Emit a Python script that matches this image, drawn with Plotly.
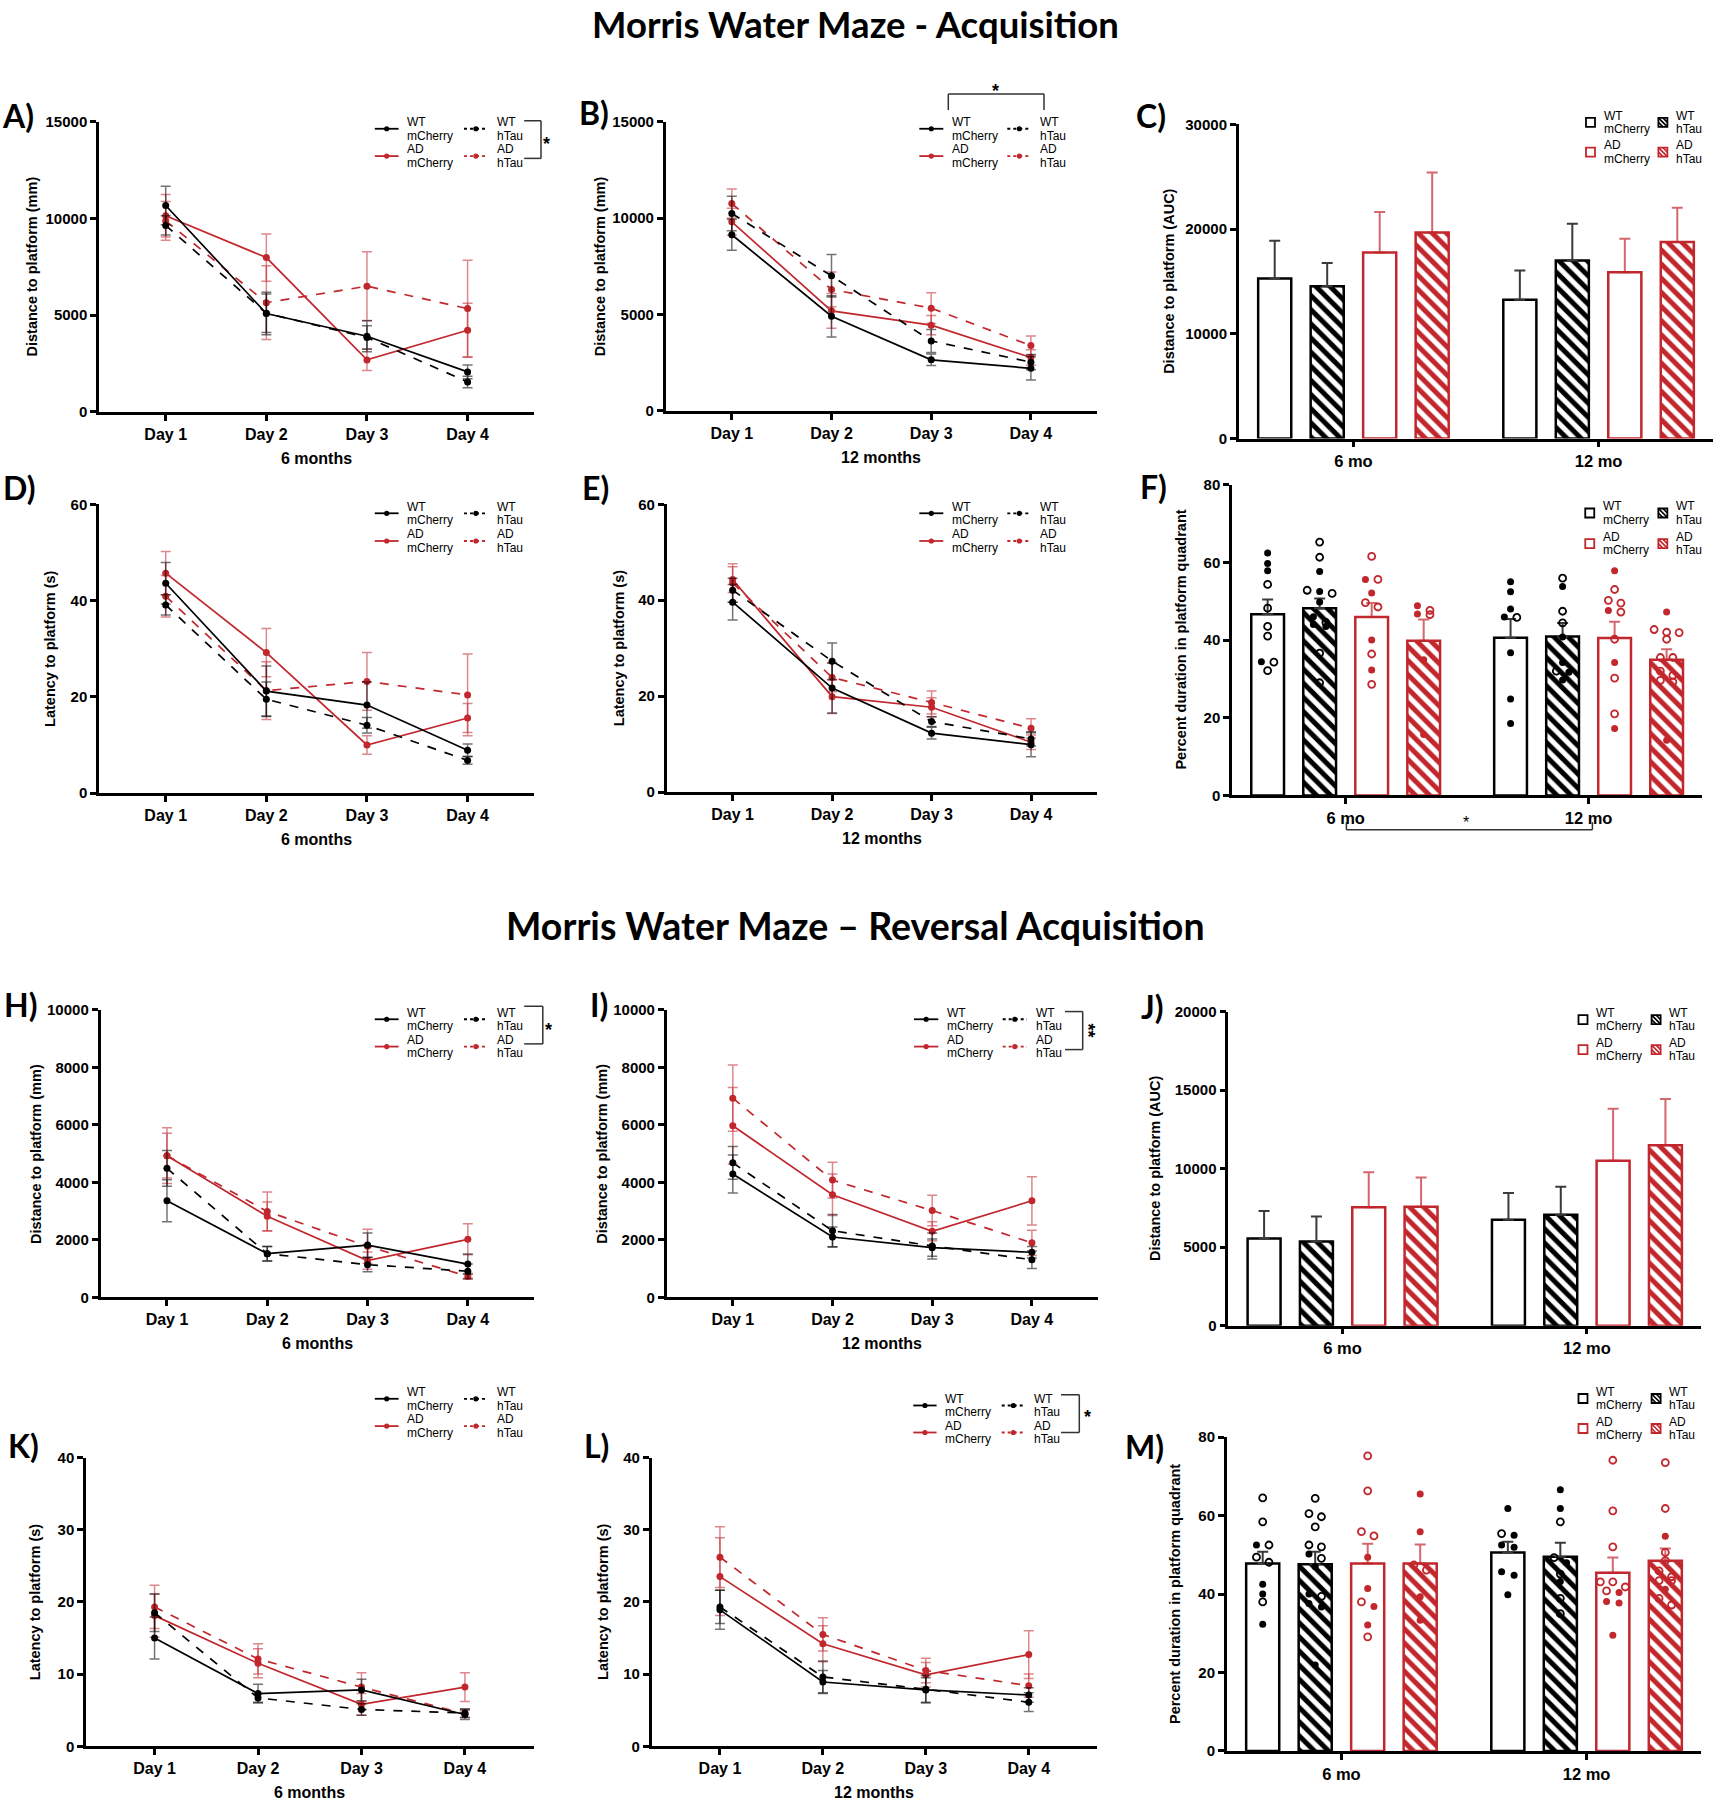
import plotly.graph_objects as go

W, H = 1715, 1800
FONT = "Liberation Sans"
LABEL_FONT = "Lato"
RED = "#C1272D"
BLACK = "#000000"

DAYS = ["Day 1", "Day 2", "Day 3", "Day 4"]
AGES = ["6 mo", "12 mo"]
GROUP_TOP = ["WT", "WT", "AD", "AD"]
GROUP_BOTTOM = ["mCherry", "hTau", "mCherry", "hTau"]
# group order in every list below: WT mCherry, WT hTau, AD mCherry, AD hTau

# ---- Acquisition ----
A_MEAN = [[10670, 5090, 3910, 2070], [9640, 5100, 3850, 1550], [10140, 7980, 2690, 4220], [9880, 5650, 6500, 5340]]
A_SEM = [[1000, 1100, 800, 350], [500, 1000, 600, 300], [1100, 1220, 550, 1400], [1000, 1900, 1780, 2500]]

B_MEAN = [[9140, 4910, 2650, 2210], [10240, 7010, 3630, 2530], [9810, 5190, 4450, 2770], [10760, 6300, 5330, 3390]]
B_SEM = [[800, 1070, 300, 600], [900, 1100, 600, 400], [700, 900, 500, 400], [750, 900, 800, 500]]

C_MEAN = [[15290, 13250], [14550, 17010], [17770, 15890], [19680, 18760]]
C_SEM = [[3600, 2800], [2200, 3500], [3850, 3180], [5730, 3280]]

D_MEAN = [[43.6, 21.2, 18.3, 8.9], [39.1, 19.5, 14.1, 6.8], [45.7, 29.2, 10.0, 15.6], [40.9, 21.3, 23.2, 20.4]]
D_SEM = [[4.3, 5.2, 4.8, 1.3], [2.1, 3.6, 1.6, 0.8], [4.5, 5.0, 1.9, 3.0], [4.3, 6.0, 6.0, 8.5]]

E_MEAN = [[39.6, 21.7, 12.3, 9.9], [42.1, 27.3, 14.7, 11.1], [44.3, 19.9, 17.7, 10.4], [43.6, 23.9, 18.7, 13.3]]
E_SEM = [[3.7, 5.2, 1.2, 2.5], [2.5, 3.8, 1.0, 1.5], [2.7, 3.5, 2.0, 1.5], [4.0, 3.0, 2.4, 2.0]]

F_MEAN = [[46.6, 40.6], [48.2, 40.9], [45.9, 40.5], [39.8, 34.9]]
F_SEM = [[3.8, 4.8], [2.5, 3.5], [3.6, 4.2], [5.5, 2.7]]
# individual animals: [6 mo, 12 mo] for each group; filled = one sex, open = other
F_FILLED = [
    [[62.4, 59.7, 57.8, 34.4], [55.0, 52.4, 48.0, 45.9, 36.7, 24.8, 18.5]],
    [[57.6, 52.5, 49.8, 46.0, 43.5, 44.0], [53.8, 40.8, 34.2, 31.7, 29.7]],
    [[55.6, 52.1, 40.0, 32.3], [57.8, 47.6, 34.2, 17.2]],
    [[46.7, 48.8, 34.9, 15.7], [47.2, 14.2]],
]
F_OPEN = [
    [[54.3, 48.2, 43.5, 41.0, 34.3, 32.1], [45.8]],
    [[65.2, 61.3, 52.0, 52.8, 44.5, 36.6, 29.0], [55.9, 47.4, 44.4, 32.0]],
    [[61.5, 55.6, 48.5, 49.6, 36.4, 28.6], [53.0, 49.5, 50.2, 47.2, 40.2, 30.2, 21.0]],
    [[47.6, 46.5], [41.9, 42.0, 42.7, 40.2, 35.5, 35.5, 32.0, 30.9, 29.6, 29.2]],
]

# ---- Reversal acquisition ----
H_MEAN = [[3360, 1520, 1820, 1160], [4490, 1520, 1140, 910], [4930, 2820, 1280, 2020], [4930, 2990, 1780, 730]]
H_SEM = [[730, 250, 420, 350], [620, 250, 250, 250], [780, 500, 300, 540], [970, 680, 590, 100]]

I_MEAN = [[4290, 2100, 1730, 1570], [4680, 2320, 1790, 1310], [5970, 3570, 2300, 3360], [6930, 4080, 3020, 1900]]
I_SEM = [[660, 350, 300, 200], [570, 560, 450, 300], [1330, 720, 330, 840], [1150, 620, 530, 440]]

J_MEAN = [[5560, 6750], [5370, 7070], [7540, 10510], [7580, 11490]]
J_SEM = [[1740, 1700], [1590, 1780], [2230, 3310], [1850, 2950]]

K_MEAN = [[15.0, 7.3, 7.8, 4.4], [18.5, 6.7, 5.1, 4.6], [18.1, 11.5, 5.8, 8.2], [19.3, 12.1, 8.2, 4.5]]
K_SEM = [[2.9, 1.3, 1.5, 0.7], [2.6, 0.6, 0.8, 0.6], [3.0, 2.0, 1.5, 2.0], [3.0, 2.1, 2.0, 0.5]]

L_MEAN = [[18.9, 8.9, 7.8, 7.1], [19.3, 9.6, 7.9, 6.1], [23.5, 14.2, 9.9, 12.7], [26.2, 15.5, 10.5, 8.4]]
L_SEM = [[2.7, 1.6, 1.7, 1.0], [2.3, 2.2, 1.9, 1.3], [5.4, 2.5, 1.7, 3.3], [4.2, 2.3, 1.7, 1.6]]

M_MEAN = [[47.8, 50.6], [47.6, 49.5], [47.8, 45.4], [47.8, 48.5]]
M_SEM = [[3.0, 2.7], [3.2, 3.6], [5.0, 3.9], [4.8, 3.1]]
M_FILLED = [
    [[52.5, 42.5, 40.0, 32.3], [61.8, 52.5, 55.0, 51.9, 45.7, 44.8, 39.8]],
    [[50.2, 47.0, 40.0, 37.6, 36.7, 21.9], [66.6, 61.8, 48.0, 43.2]],
    [[49.4, 41.4, 36.8, 32.1], [40.4, 38.1, 37.7, 29.5]],
    [[65.5, 55.9, 39.3, 33.3], [54.7, 41.2]],
]
M_OPEN = [
    [[64.5, 58.4, 52.5, 48.1, 49.4, 38.0], [55.4]],
    [[64.4, 59.7, 60.5, 57.1, 52.0, 52.5, 49.1, 39.4], [58.4, 49.3, 45.1, 38.9, 35.0]],
    [[75.2, 66.3, 54.8, 55.9, 38.0, 29.1], [74.1, 61.2, 52.0, 43.1, 43.1, 40.8, 41.8]],
    [[46.1, 47.4], [73.5, 61.8, 50.6, 48.5, 44.4, 45.9, 43.4, 43.4, 38.9, 37.2]],
]

# ---------------------------------------------------------------------------
COLORS = [BLACK, BLACK, RED, RED]
DASHES = ["solid", "dash", "solid", "dash"]
HATCH = [False, True, False, True]
LINE_ERR = ["rgba(0,0,0,0.55)", "rgba(0,0,0,0.55)", "rgba(193,39,45,0.55)", "rgba(193,39,45,0.55)"]
BAR_ERR = ["#3a3a3a", "#3a3a3a", "rgba(193,39,45,0.7)", "rgba(193,39,45,0.7)"]
DAY_OFF = 0.663
GROUP_GAP = 4.67
BAR_RANGE = [-0.685, 8.35]
# vertical calibration of the page (pixel target -> paper)
Y_OFF = 9.0
Y_SCALE = 0.990

fig = go.Figure()
layout_axes = {}
shapes = []
annotations = []


def px(x):
    return x / W


def py(y):
    return 1 - ((y - Y_OFF) / Y_SCALE) / H


def axis_names(n):
    if n == 1:
        return "xaxis", "yaxis", "x", "y"
    return f"xaxis{n}", f"yaxis{n}", f"x{n}", f"y{n}"


def base_axis():
    return dict(showline=True, linewidth=2.5, linecolor=BLACK, ticks="outside", ticklen=6,
                tickwidth=2.5, tickcolor=BLACK, showgrid=False, zeroline=False,
                tickfont=dict(family=FONT, size=15, color=BLACK, weight="bold"))


def text(x, y, s, size, bold=False, family=FONT, xanchor="center", angle=0, align="center"):
    if bold:
        s = f"<b>{s}</b>"
    annotations.append(dict(x=px(x), y=py(y), xref="paper", yref="paper", text=s, showarrow=False,
                            xanchor=xanchor, yanchor="middle", textangle=angle, align=align,
                            font=dict(family=family, size=size, color=BLACK)))


def setup_axes(n, box, xrange, xtickvals, xticktext, xfont, ymax, ytickvals):
    xa, ya, xr, yr = axis_names(n)
    x0, x1, ytop, ybot = box
    xax = base_axis()
    xax.update(domain=[px(x0), px(x1)], range=xrange, tickvals=xtickvals, ticktext=xticktext, anchor=yr)
    xax["tickfont"] = dict(family=FONT, size=xfont, color=BLACK, weight="bold")
    yax = base_axis()
    yax.update(domain=[py(ybot), py(ytop)], range=[0, ymax], tickvals=ytickvals,
               ticktext=[str(v) for v in ytickvals], anchor=xr)
    layout_axes[xa] = xax
    layout_axes[ya] = yax
    return xr, yr


def line_panel(n, box, ymax, ytickvals, means, sems, xlabel, ytitle, ytitle_x):
    xr, yr = setup_axes(n, box, [1 - DAY_OFF, 4 + DAY_OFF], [1, 2, 3, 4], DAYS, 16, ymax, ytickvals)
    for g in [3, 2, 1, 0]:
        fig.add_trace(go.Scatter(
            x=[1, 2, 3, 4], y=means[g], xaxis=xr, yaxis=yr, mode="lines+markers",
            line=dict(color=COLORS[g], width=1.7, dash=DASHES[g]),
            marker=dict(color=COLORS[g], size=7),
            error_y=dict(type="data", array=sems[g], color=LINE_ERR[g], thickness=1.5, width=5),
            cliponaxis=False, showlegend=False))
    x0, x1, ytop, ybot = box
    text((x0 + x1) / 2, ybot + 46.5, xlabel, 16, bold=True)
    text(ytitle_x, (ytop + ybot) / 2, ytitle, 14.5, bold=True, angle=-90)


def swarm(vals, xppu, yppu, diam=7.0, spacing=12.5):
    order = sorted(range(len(vals)), key=lambda i: -vals[i])
    rows = []
    for i in order:
        if rows and (vals[rows[-1][0]] - vals[i]) * yppu < diam:
            rows[-1].append(i)
        else:
            rows.append([i])
    offs = [0.0] * len(vals)
    for r in rows:
        k = len(r)
        for j, i in enumerate(r):
            offs[i] = (j - (k - 1) / 2) * spacing / xppu
    return offs


def bar_panel(n, box, ymax, ytickvals, means, sems, ytitle, ytitle_x, filled=None, opened=None):
    tick_pos = [1.5, 1.5 + GROUP_GAP]
    xr, yr = setup_axes(n, box, BAR_RANGE, tick_pos, AGES, 16.5, ymax, ytickvals)
    x0, x1, ytop, ybot = box
    xppu = (x1 - x0) / (BAR_RANGE[1] - BAR_RANGE[0])
    yppu = (ybot - ytop) / ymax
    for g in range(4):
        xs = [g, g + GROUP_GAP]
        c = COLORS[g]
        marker = dict(color="white", line=dict(color=c, width=2.5))
        if HATCH[g]:
            marker["pattern"] = dict(shape="\\", fgcolor=c, bgcolor="white", size=10, solidity=0.5,
                                     fgopacity=1)
        fig.add_trace(go.Bar(
            x=xs, y=means[g], width=0.63, xaxis=xr, yaxis=yr, marker=marker,
            error_y=dict(type="data", symmetric=False, array=sems[g], arrayminus=[0, 0],
                         color=BAR_ERR[g], thickness=2, width=5.5),
            showlegend=False))
    if filled is not None:
        for g in range(4):
            for a in range(2):
                fv, ov = filled[g][a], opened[g][a]
                vals = fv + ov
                offs = swarm(vals, xppu, yppu)
                cx = g + a * GROUP_GAP
                nf = len(fv)
                fig.add_trace(go.Scatter(
                    x=[cx + o for o in offs[:nf]], y=fv, xaxis=xr, yaxis=yr, mode="markers",
                    marker=dict(color=COLORS[g], size=7, symbol="circle"), showlegend=False,
                    cliponaxis=False))
                fig.add_trace(go.Scatter(
                    x=[cx + o for o in offs[nf:]], y=ov, xaxis=xr, yaxis=yr, mode="markers",
                    marker=dict(color=COLORS[g], size=7, symbol="circle-open", line=dict(width=1.8, color=COLORS[g])),
                    showlegend=False, cliponaxis=False))
    text(ytitle_x, (ytop + ybot) / 2, ytitle, 14.5, bold=True, angle=-90)


def seg(xa, ya, xb, yb, color=BLACK, width=1.5, dash="solid"):
    shapes.append(dict(type="line", xref="paper", yref="paper", x0=px(xa), y0=py(ya), x1=px(xb), y1=py(yb),
                       line=dict(color=color, width=width, dash=dash)))


def two_line_label(x, y, k):
    text(x, y - 6.6, GROUP_TOP[k], 12, xanchor="left")
    text(x, y + 6.8, GROUP_BOTTOM[k], 12, xanchor="left")


def line_legend(x0, y0, L, toff, coff, rgap):
    for k in range(4):
        col, row = k % 2, k // 2
        lx = x0 + col * coff
        ly = y0 + row * rgap
        seg(lx, ly, lx + L, ly, COLORS[k], 1.8, "solid" if DASHES[k] == "solid" else "dot")
        cx = lx + L / 2
        shapes.append(dict(type="circle", xref="paper", yref="paper", x0=px(cx - 2.6), x1=px(cx + 2.6),
                           y0=py(ly + 2.6), y1=py(ly - 2.6), fillcolor=COLORS[k], line=dict(width=0)))
        two_line_label(lx + toff, ly, k)


def bar_legend(cx, cy, coff, rgap):
    h = 4.5
    for k in range(4):
        col, row = k % 2, k // 2
        x = cx + col * coff
        y = cy + row * rgap
        shapes.append(dict(type="rect", xref="paper", yref="paper", x0=px(x - h), x1=px(x + h),
                           y0=py(y + h), y1=py(y - h), fillcolor="white", line=dict(color=COLORS[k], width=1.8)))
        if HATCH[k]:
            seg(x - h, y - h, x + h, y + h, COLORS[k], 1.7)
            seg(x - h, y, x, y + h, COLORS[k], 1.7)
            seg(x, y - h, x + h, y, COLORS[k], 1.7)
        two_line_label(x + 11.3, y, k)


def bracket(points):
    for (xa, ya), (xb, yb) in zip(points[:-1], points[1:]):
        seg(xa, ya, xb, yb, "#333333", 1.5)


DIST = "Distance to platform (mm)"
LAT = "Latency to platform (s)"
AUC = "Distance to platform (AUC)"
PCT = "Percent duration in platform quadrant"

line_panel(1, (99, 534.3, 121.7, 411.7), 15000, [0, 5000, 10000, 15000], A_MEAN, A_SEM, "6 months", DIST, 31.6)
line_panel(2, (665.7, 1097, 121.7, 410.7), 15000, [0, 5000, 10000, 15000], B_MEAN, B_SEM, "12 months", DIST, 600)
bar_panel(3, (1238.75, 1713, 124.3, 438.3), 30000, [0, 10000, 20000, 30000], C_MEAN, C_SEM, AUC, 1169.4)
line_panel(4, (99, 534.3, 504, 792.7), 60, [0, 20, 40, 60], D_MEAN, D_SEM, "6 months", LAT, 50.2)
line_panel(5, (666.7, 1097, 504, 791.7), 60, [0, 20, 40, 60], E_MEAN, E_SEM, "12 months", LAT, 619)
bar_panel(6, (1232, 1702, 484.3, 795), 80, [0, 20, 40, 60, 80], F_MEAN, F_SEM, PCT, 1180.6, F_FILLED, F_OPEN)
line_panel(7, (100.5, 534.3, 1009.3, 1296.7), 10000, [0, 2000, 4000, 6000, 8000, 10000], H_MEAN, H_SEM, "6 months", DIST, 35.3)
line_panel(8, (666.7, 1098, 1009.3, 1296.7), 10000, [0, 2000, 4000, 6000, 8000, 10000], I_MEAN, I_SEM, "12 months", DIST, 602)
bar_panel(9, (1228.25, 1701, 1011, 1325), 20000, [0, 5000, 10000, 15000, 20000], J_MEAN, J_SEM, AUC, 1154.4)
line_panel(10, (86, 533.5, 1456.7, 1745.3), 40, [0, 10, 20, 30, 40], K_MEAN, K_SEM, "6 months", LAT, 35.3)
line_panel(11, (651.7, 1097, 1456.7, 1745.3), 40, [0, 10, 20, 30, 40], L_MEAN, L_SEM, "12 months", LAT, 603)
bar_panel(12, (1226.75, 1701, 1436.3, 1750), 80, [0, 20, 40, 60, 80], M_MEAN, M_SEM, PCT, 1175, M_FILLED, M_OPEN)

# legends
line_legend(374.8, 128.7, 23.8, 30.5, 89.2, 27.3)
line_legend(919.3, 128.7, 24, 30.7, 88, 27.3)
line_legend(374.8, 513, 23.8, 30.5, 89.2, 27.7)
line_legend(919.3, 513, 24, 30.7, 88, 27.7)
line_legend(374.8, 1018.7, 23.8, 30.5, 89.2, 27.3)
line_legend(914, 1018.7, 24.3, 31, 88.7, 27.3)
line_legend(374.8, 1398, 23.8, 30.5, 89.2, 27.3)
line_legend(913.3, 1404.7, 23.3, 30, 88.4, 27)
bar_legend(1590.5, 122.3, 72.4, 29.7)
bar_legend(1589.75, 512.7, 73.1, 30.6)
bar_legend(1583, 1019, 73.1, 30)
bar_legend(1583, 1397.7, 73.1, 30)

# significance brackets
bracket([(524.2, 120.7), (541, 120.7), (541, 158.3), (524.2, 158.3)])
text(546, 144, "*", 18, bold=True)
bracket([(948.3, 110), (948.3, 94), (1044, 94), (1044, 110)])
text(995.7, 91, "*", 18, bold=True)
bracket([(1346.4, 821.7), (1346.4, 829.3), (1592.4, 829.3), (1592.4, 821.7)])
text(1466, 822, "*", 16)
bracket([(524.2, 1005.7), (542.8, 1005.7), (542.8, 1043.3), (524.2, 1043.3)])
text(548, 1029, "*", 18, bold=True)
bracket([(1065, 1011), (1082.7, 1011), (1082.7, 1049), (1065, 1049)])
text(1088, 1030, "**", 18, bold=True, angle=90)
bracket([(1061, 1394), (1079.3, 1394), (1079.3, 1431.7), (1061, 1431.7)])
text(1087, 1416, "*", 18, bold=True)

# panel labels
for lab, x, y in [("A)", 0, 115), ("B)", 577, 112), ("C)", 1133.7, 115), ("D)", 1, 487), ("E)", 580, 487),
                  ("F)", 1137.5, 486), ("H)", 2, 1004), ("I)", 588, 1004), ("J)", 1139.4, 1006),
                  ("K)", 5.6, 1445), ("L)", 582, 1445), ("M)", 1123, 1446)]:
    text(x, y, lab, 32, bold=True, family=LABEL_FONT, xanchor="left")

# section titles
text(855, 23.5, "Morris Water Maze - Acquisition", 36.5, bold=True, family=LABEL_FONT)
text(855, 925, "Morris Water Maze \u2013 Reversal Acquisition", 37.5, bold=True, family=LABEL_FONT)

fig.update_layout(width=W, height=H, margin=dict(l=0, r=0, t=0, b=0), paper_bgcolor="white",
                  plot_bgcolor="white", barmode="overlay", showlegend=False,
                  shapes=shapes, annotations=annotations, **layout_axes)
fig.write_html("out.html", config={"displayModeBar": False},
               post_script="document.body.style.margin='0px';document.body.style.overflow='hidden';"
                           "document.documentElement.style.overflow='hidden';")
